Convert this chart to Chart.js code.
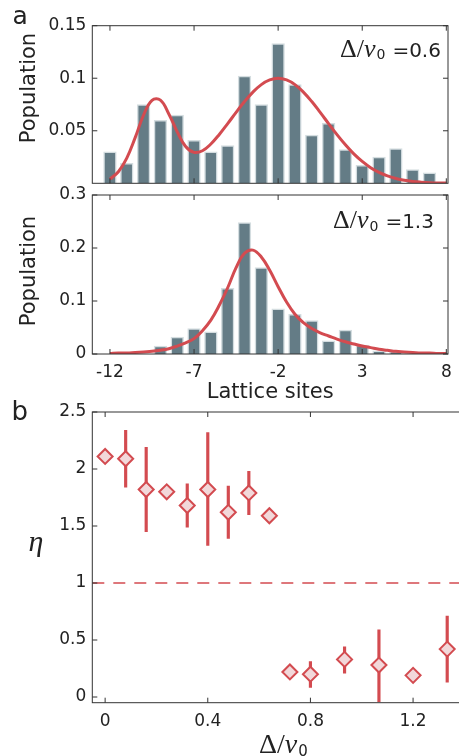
<!DOCTYPE html>
<html>
<head>
<meta charset="utf-8">
<script src="https://cdn.jsdelivr.net/npm/chart.js@4.4.1/dist/chart.umd.min.js"></script>
<style>
  html, body { margin: 0; padding: 0; background: #fff; overflow: hidden; width: 459px; height: 756px; }
  canvas { position: absolute; left: 0; }
  #c1 { top: 0; }
  #c2 { top: 178px; }
  #c3 { top: 390px; }
</style>
</head>
<body>
<canvas id="c1" width="459" height="190"></canvas>
<canvas id="c2" width="459" height="227"></canvas>
<canvas id="c3" width="476" height="366"></canvas>
<script>
// panel a: site populations
const sites = [-12, -11, -10, -9, -8, -7, -6, -5, -4, -3, -2, -1, 0, 1, 2, 3, 4, 5, 6, 7];
const popDelta06 = [0.030, 0.019, 0.075, 0.060, 0.065, 0.041, 0.030, 0.036, 0.102, 0.075,
                    0.133, 0.094, 0.046, 0.057, 0.032, 0.017, 0.025, 0.033, 0.013, 0.010];
const popDelta13 = [0, 0, 0, 0.015, 0.032, 0.048, 0.042, 0.124, 0.248, 0.163,
                    0.085, 0.075, 0.063, 0.025, 0.045, 0.017, 0.006, 0.004, 0, 0];

// fitted curves, read every half site
const fitSites = [-12, -11.5, -11, -10.5, -10, -9.5, -9, -8.5, -8, -7.5, -7, -6.5, -6, -5.5,
                  -5, -4.5, -4, -3.5, -3, -2.5, -2, -1.5, -1, -0.5, 0, 0.5, 1, 1.5, 2, 2.5,
                  3, 3.5, 4, 4.5, 5, 5.5, 6, 6.5, 7, 7.5, 8];
const fitDelta06 = [0.004, 0.011, 0.024, 0.0435, 0.065, 0.079, 0.0792, 0.066, 0.049, 0.035,
                    0.0294, 0.031, 0.0374, 0.0465, 0.0568, 0.0675, 0.0778, 0.0868, 0.0939, 0.0984,
                    0.100, 0.0984, 0.0939, 0.0868, 0.0778, 0.0675, 0.0568, 0.0463, 0.0366, 0.028,
                    0.0208, 0.0149, 0.0104, 0.007, 0.0046, 0.0029, 0.0018, 0.0011, 0.0006, 0.0003, 0.0002];
const fitDelta13 = [0.001, 0.002, 0.002, 0.003, 0.004, 0.005, 0.007, 0.010, 0.015, 0.021,
                    0.029, 0.044, 0.064, 0.092, 0.125, 0.163, 0.190, 0.196, 0.183, 0.158,
                    0.127, 0.098, 0.075, 0.059, 0.048, 0.040, 0.034, 0.028, 0.023, 0.019,
                    0.015, 0.012, 0.009, 0.007, 0.005, 0.004, 0.003, 0.002, 0.002, 0.001, 0.001];

const siteTicks = [-12, -7, -2, 3, 8];
const siteTickLabels = ['-12', '-7', '-2', '3', '8'];
const popTicksTop = [0.05, 0.1, 0.15];
const popTickLabelsTop = ['0.05', '0.1', '0.15'];
const popTicksBottom = [0, 0.1, 0.2, 0.3];
const popTickLabelsBottom = ['0', '0.1', '0.2', '0.3'];

// panel b: eta vs detuning
const deltaRatio = [0, 0.08, 0.16, 0.24, 0.32, 0.40, 0.48, 0.56, 0.64, 0.72, 0.80, 0.933, 1.067, 1.20, 1.333];
const eta = [2.11, 2.09, 1.82, 1.80, 1.68, 1.82, 1.62, 1.79, 1.59, 0.22, 0.20, 0.33, 0.28, 0.19, 0.42];
const etaLower = [2.08, 1.84, 1.45, 1.77, 1.49, 1.33, 1.39, 1.60, 1.56, 0.19, 0.085, 0.21, -0.04, 0.16, 0.13];
const etaUpper = [2.14, 2.34, 2.19, 1.83, 1.87, 2.32, 1.85, 1.98, 1.62, 0.25, 0.31, 0.44, 0.59, 0.22, 0.71];
const etaThreshold = 1;
const ratioTicks = [0, 0.4, 0.8, 1.2];
const ratioTickLabels = ['0', '0.4', '0.8', '1.2'];
const etaTicks = [0, 0.5, 1, 1.5, 2, 2.5];
const etaTickLabels = ['0', '0.5', '1', '1.5', '2', '2.5'];

const RED = '#d34b50';
const PINK = '#f2d8da';
const BAR = '#647c86';
const BAR_EDGE = '#d4dde0';
const TEXT = '#222';
const SANS = 'DejaVu Sans';
const SERIF = 'Liberation Serif';
const tickFont = { family: SANS, size: 17 };

Chart.defaults.font.family = SANS;

function xAxis(min, max, ticks, labels, showLabels, height, title) {
    return {
        type: 'linear', min: min, max: max, offset: false,
        grid: { display: false, drawTicks: false, offset: false },
        border: { display: false },
        afterBuildTicks: s => { s.ticks = ticks.map(v => ({ value: v })); },
        afterFit: s => { s.height = height; s.paddingLeft = 0; s.paddingRight = 0; },
        ticks: {
            display: showLabels, padding: 8.5, font: tickFont, color: TEXT,
            maxRotation: 0, autoSkip: false, callback: (v, i) => labels[i]
        },
        title: title || { display: false }
    };
}

function yAxis(min, max, ticks, labels) {
    return {
        min: min, max: max,
        grid: { display: false, drawTicks: false },
        border: { display: false },
        afterBuildTicks: s => { s.ticks = ticks.map(v => ({ value: v })); },
        afterFit: s => { s.width = 92.3; s.paddingTop = 0; s.paddingBottom = 0; },
        ticks: { padding: 6, font: tickFont, color: TEXT, autoSkip: false, callback: (v, i) => labels[i] }
    };
}

// box with inward ticks, like the original axes
const framePlugin = {
    id: 'frame',
    afterDatasetsDraw(chart) {
        const { ctx, chartArea: a, scales } = chart;
        const len = 5;
        ctx.save();
        ctx.strokeStyle = '#333';
        ctx.lineWidth = 1;
        ctx.strokeRect(a.left, a.top, a.right - a.left, a.bottom - a.top);
        ctx.beginPath();
        scales.x.ticks.forEach(t => {
            const px = scales.x.getPixelForValue(t.value);
            ctx.moveTo(px, a.bottom); ctx.lineTo(px, a.bottom - len);
            ctx.moveTo(px, a.top); ctx.lineTo(px, a.top + len);
        });
        scales.y.ticks.forEach(t => {
            const py = scales.y.getPixelForValue(t.value);
            ctx.moveTo(a.left, py); ctx.lineTo(a.left + len, py);
            ctx.moveTo(a.right, py); ctx.lineTo(a.right - len, py);
        });
        ctx.stroke();
        ctx.restore();
    }
};

// text made of pieces in different fonts
function drawParts(ctx, x, y, parts) {
    let cx = x;
    parts.forEach(p => {
        ctx.font = p.f;
        ctx.fillText(p.t, cx, y + (p.dy || 0));
        cx += ctx.measureText(p.t).width + (p.gap || 0);
    });
}

function ratioParts(size, value) {
    const parts = [
        { t: 'Δ/', f: size + 'px "' + SERIF + '"' },
        { t: 'ν', f: 'italic ' + size + 'px "' + SERIF + '"', gap: 1 },
        { t: '0', f: Math.round(size * 0.55) + 'px "' + SANS + '"', dy: size * 0.1, gap: 7 }
    ];
    if (value) parts.push({ t: '=' + value, f: '20px "' + SANS + '"' });
    return parts;
}

function rotatedLabel(ctx, text, x, y) {
    ctx.save();
    ctx.translate(x, y);
    ctx.rotate(-Math.PI / 2);
    ctx.textAlign = 'center';
    ctx.font = '21px "' + SANS + '"';
    ctx.fillText(text, 0, 0);
    ctx.restore();
}

const baseOptions = {
    responsive: false,
    animation: false,
    events: [],
    devicePixelRatio: 1,
    plugins: { legend: { display: false }, tooltip: { enabled: false } }
};

function histogram(id, pop, fit, yMax, yTicks, yLabels, showX, xHeight, pad, title, decorate) {
    return new Chart(document.getElementById(id), {
        type: 'bar',
        data: {
            datasets: [
                {
                    type: 'line',
                    data: fitSites.map((s, i) => ({ x: s, y: fit[i] })),
                    borderColor: RED, borderWidth: 3, pointRadius: 0, tension: 0.4, order: 0
                },
                {
                    data: sites.map((s, i) => ({ x: s, y: pop[i] })),
                    backgroundColor: BAR, borderColor: BAR_EDGE, borderWidth: 1.5,
                    barThickness: 12.7, order: 1
                }
            ]
        },
        options: Object.assign({}, baseOptions, {
            layout: { padding: pad },
            scales: {
                x: xAxis(-13.05, 8.1, siteTicks, siteTickLabels, showX, xHeight, title),
                y: yAxis(0, yMax, yTicks, yLabels)
            }
        }),
        plugins: [framePlugin, { id: 'deco', afterDraw: c => { c.ctx.save(); c.ctx.fillStyle = TEXT; decorate(c.ctx); c.ctx.restore(); } }]
    });
}

histogram('c1', popDelta06, fitDelta06, 0.15, popTicksTop, popTickLabelsTop, false, 6.7,
    { top: 25.7, right: 11, left: 0, bottom: 0 }, null, ctx => {
        ctx.font = '25px "' + SANS + '"';
        ctx.fillText('a', 12.5, 24);
        rotatedLabel(ctx, 'Population', 35, 88);
        drawParts(ctx, 340, 56.5, ratioParts(26, '0.6'));
    });

histogram('c2', popDelta13, fitDelta13, 0.3, popTicksBottom, popTickLabelsBottom, true, 51,
    { top: 17, right: 11, left: 0, bottom: 0 },
    { display: true, text: 'Lattice sites', font: { family: SANS, size: 21 }, color: TEXT, padding: 0 },
    ctx => {
        rotatedLabel(ctx, 'Population', 35, 93);
        drawParts(ctx, 333, 50.3, ratioParts(26, '1.3'));
    });

const ratioMin = -0.05, ratioMax = 1.4;
new Chart(document.getElementById('c3'), {
    type: 'scatter',
    data: {
        datasets: [
            {
                data: deltaRatio.map((d, i) => ({ x: d, y: eta[i] })),
                pointStyle: 'rectRot', pointRadius: 7.5, borderWidth: 2,
                backgroundColor: PINK, borderColor: RED, order: 0
            },
            {
                type: 'bar',
                data: deltaRatio.map((d, i) => ({ x: d, y: [etaLower[i], etaUpper[i]] })),
                backgroundColor: RED, borderWidth: 0, barThickness: 2.5, grouped: false, order: 2
            },
            {
                type: 'line',
                data: [{ x: ratioMin, y: etaThreshold }, { x: ratioMax, y: etaThreshold }],
                borderColor: RED, borderWidth: 1.5, borderDash: [12, 9], pointRadius: 0, order: 3
            }
        ]
    },
    options: Object.assign({}, baseOptions, {
        layout: { padding: { top: 22, right: 11.6, left: 0, bottom: 0 } },
        scales: {
            x: xAxis(ratioMin, ratioMax, ratioTicks, ratioTickLabels, true, 53.3),
            y: yAxis(-0.05, 2.5, etaTicks, etaTickLabels)
        }
    }),
    plugins: [framePlugin, {
        id: 'deco',
        afterDraw(chart) {
            const ctx = chart.ctx;
            ctx.save();
            ctx.fillStyle = TEXT;
            ctx.font = '26px "' + SANS + '"';
            ctx.fillText('b', 11.5, 30);
            ctx.font = 'italic 30px "' + SERIF + '"';
            ctx.textAlign = 'center';
            ctx.fillText('η', 36, 160.5);
            ctx.textAlign = 'left';
            drawParts(ctx, 259, 362.7, ratioParts(28));
            ctx.restore();
        }
    }]
});
</script>
</body>
</html>
